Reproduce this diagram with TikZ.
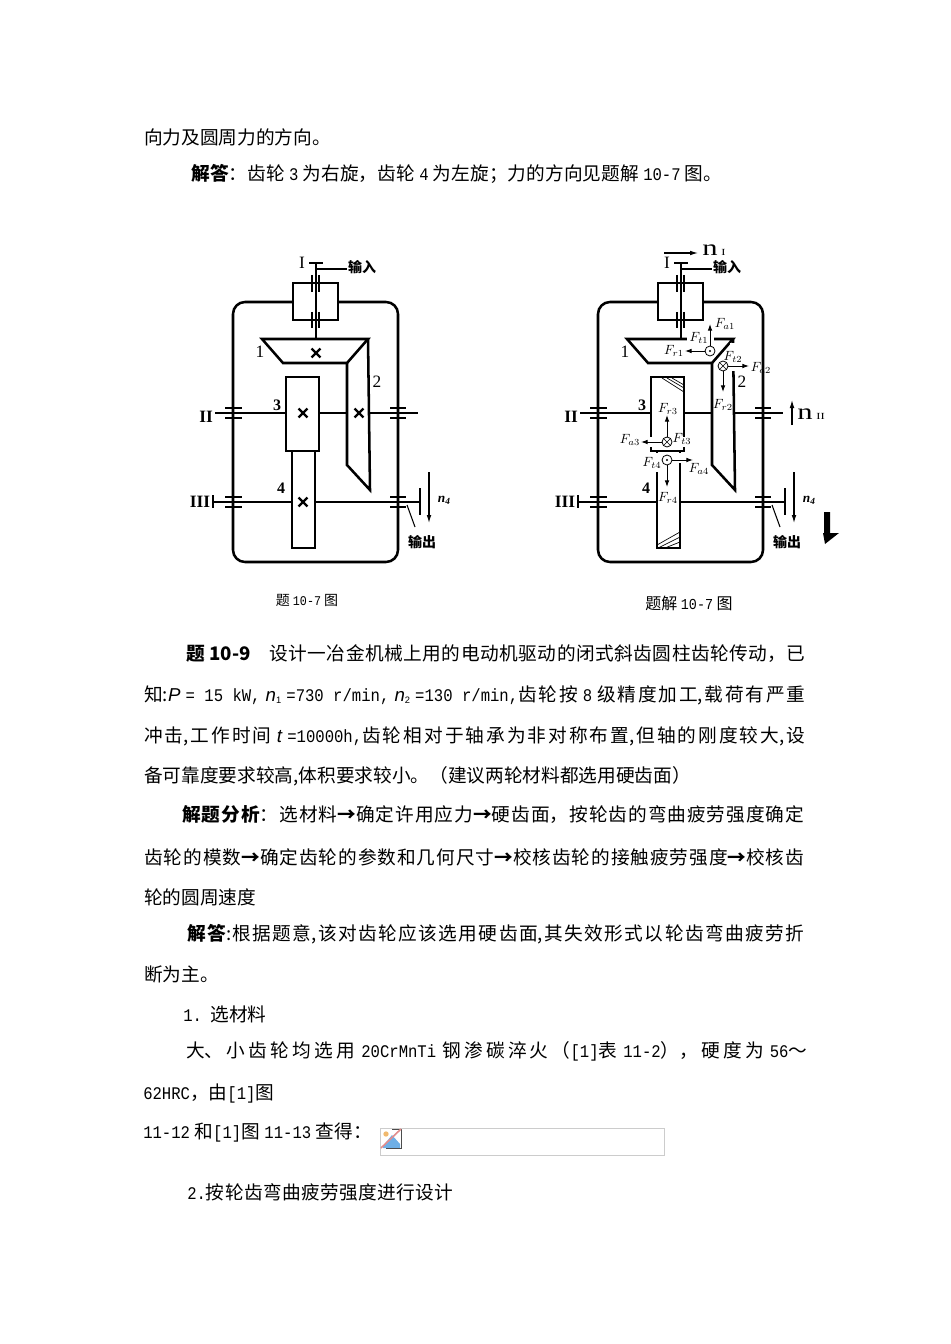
\documentclass[tikz,border=0pt]{standalone}
\usepackage{fontspec}
\setmainfont{Noto Sans CJK SC}
\newfontfamily\lafont[Scale=0.95,FakeStretch=0.88]{Liberation Mono}
\newfontfamily\itfont{Liberation Sans}
\newfontfamily\serfont{Liberation Serif}
\newfontfamily\wideser[FakeStretch=1.35]{Liberation Serif}
\usetikzlibrary{shapes.misc,arrows.meta}
\XeTeXlinebreaklocale "zh"
\XeTeXlinebreakskip=0pt plus 3pt
\newcommand{\la}[1]{\mbox{\lafont #1}}
\newcommand{\nsub}[2]{\mbox{{\itfont\itshape #1}\raisebox{-1.5pt}{\fontsize{7}{7}\selectfont\itfont #2}}}
\newcommand{\barrow}{\textbf{→}}
\tikzset{
	tline/.style={anchor=west,inner sep=0pt,font=\fontsize{14}{17}\selectfont},
	jline/.style={tline,text width=#1*0.75pt,align=justify,execute at begin node={\parfillskip=0pt\relax}},
	caption/.style={inner sep=0pt,font=\fontsize{10.5}{12}\selectfont},
	gearline/.style={line width=1.9pt,line join=miter},
	shaftline/.style={line width=1.4pt},
	thinline/.style={line width=0.8pt},
	bearbar/.style={line width=2.2pt},
	xmark/.style={cross out,draw,line width=1.7pt,minimum size=5pt,inner sep=0pt},
	romannum/.style={inner sep=0pt,font=\serfont\bfseries\fontsize{13}{13}\selectfont},
	gearnum/.style={inner sep=0pt,font=\serfont\bfseries\fontsize{12}{12}\selectfont},
	gearnumthin/.style={inner sep=0pt,font=\serfont\fontsize{13}{13}\selectfont},
	partlabel/.style={inner sep=0pt,font=\bfseries\fontsize{10.5}{12}\selectfont},
	forcelabel/.style={inner sep=0.5pt,font=\fontsize{10}{10}\selectfont},
	force/.style={-{Latex[length=5pt,width=3.5pt]},line width=0.7pt},
	speed/.style={-{Latex[length=6pt,width=3.5pt]},line width=0.8pt},
	dotcirc/.style={circle,draw,line width=0.6pt,fill=white,minimum size=7.5pt,inner sep=0pt,
		path picture={\fill[black] (path picture bounding box.center) circle (0.8pt);}},
	crosscirc/.style={circle,draw,line width=0.6pt,fill=white,minimum size=7.5pt,inner sep=0pt,
		path picture={\draw[line width=0.5pt] (path picture bounding box.north west) -- (path picture bounding box.south east)
			(path picture bounding box.north east) -- (path picture bounding box.south west);}},
	hatch/.style={line width=0.5pt},
	blank/.style={fill=white,draw=none}
}
\definecolor{iconblue}{RGB}{110,175,230}
\definecolor{iconred}{RGB}{225,140,140}
\definecolor{iconorange}{RGB}{240,185,110}
\begin{document}
\begin{tikzpicture}[x=0.75pt,y=-0.75pt]
\useasboundingbox (0,0) rectangle (950,1344);

% Text above
\node[tline] (para1) at (144,137) {向力及圆周力的方向。};
\node[jline=531] (para2) at (191,174) {\textbf{解答}：齿轮 \la{3} 为右旋，齿轮 \la{4} 为左旋；力的方向见题解 \la{10-7} 图。};

% Gearbox, drawn twice
\foreach \dx in {0,365} {
\begin{scope}[xshift=\dx*0.75pt]
	% housing
	\draw[gearline,rounded corners=9pt] (293,302) -- (233,302) -- (233,562) -- (398,562) -- (398,302) -- (338,302);
	\draw[gearline] (293,283) rectangle (338,320);
	% input shaft
	\draw[shaftline,line width=1.8pt] (316,263) -- (316,340);
	\draw[shaftline] (309,263) -- (323,263);
	\draw[thinline] (316,269) -- (347,269);
	\draw[bearbar] (312,275) -- (312,292) (319,275) -- (319,292);
	\draw[bearbar] (312,312) -- (312,328) (319,312) -- (319,328);
	% gears
	\draw[gearline] (262,339) -- (368,339) -- (347,363) -- (283,363) -- cycle;
	\draw[gearline] (347,363) -- (347,465) -- (370,490) -- (368,339);
	\draw[gearline] (286,377) rectangle (319,451);
	\draw[gearline] (292,451) rectangle (315,548);
	% shaft II and III
	\draw[shaftline] (215,413) -- (286,413) (319,413) -- (347,413) (370,413) -- (418,413);
	\draw[shaftline,line width=1.7pt] (213,502) -- (292,502) (315,502) -- (420,502);
	\draw[bearbar] (213,495) -- (213,508);
	\draw[bearbar] (420,488) -- (420,515);
	% bearings
	\draw[bearbar] (225,408) -- (242,408) (225,418) -- (242,418);
	\draw[bearbar] (390,408) -- (406,408) (390,418) -- (406,418);
	\draw[bearbar] (225,497) -- (242,497) (225,507) -- (242,507);
	\draw[bearbar] (390,497) -- (406,497) (390,507) -- (406,507);
	% labels
	\node[romannum,font=\serfont\fontsize{13}{13}\selectfont] (numI\dx) at (302,263) {I};
	\node[romannum] (numII\dx) at (206,417) {II};
	\node[romannum] (numIII\dx) at (200,502) {III};
	\node[gearnumthin] (gearA\dx) at (260,352) {1};
	\node[gearnumthin] (gearB\dx) at (377,382) {2};
	\node[gearnum] (gearC\dx) at (277,405) {3};
	\node[gearnum] (gearD\dx) at (281,488) {4};
	\node[partlabel] (input\dx) at (362,267) {输入};
	\node[partlabel] (output\dx) at (422,542) {输出};
	\coordinate (outfoot\dx) at (415,527);
	\coordinate (outtop\dx) at (407,505);
	\draw[thinline] (outtop\dx) -- (outfoot\dx);
	% output speed
	\coordinate (nfa\dx) at (429,472);
	\coordinate (nfb\dx) at (429,523);
	\draw[speed] (nfa\dx) -- (nfb\dx);
	\node[inner sep=0pt,font=\serfont\bfseries\itshape\fontsize{10}{10}\selectfont] (nfour\dx) at (444,500) {n\raisebox{-1.5pt}{\fontsize{7}{7}\selectfont 4}};
\end{scope}
}

% Marks on the left gears only
\node[xmark] (xa) at (316,353) {};
\node[xmark] (xb) at (359,413) {};
\node[xmark] (xc) at (303,413) {};
\node[xmark] (xd) at (303,502) {};

% Gaps on the right gears
\fill[blank] (687,336) rectangle (714,342);
\fill[blank] (730,343) rectangle (738,371);
\fill[blank] (648,437) rectangle (654,447);
\fill[blank] (681,437) rectangle (687,447);
\fill[blank] (654,453) rectangle (660,472);
\fill[blank] (677,453) rectangle (683,463);

% Hatching
\draw[hatch] (662,378) -- (684,392) (667,378) -- (684,388) (672,378) -- (684,385);
\draw[hatch] (657,545) -- (680,532) (658,548) -- (680,537) (665,548) -- (680,542);

% Forces on gear 1
\node[dotcirc] (dotA) at (710,351) {};
\coordinate (headAa) at (710,324);
\coordinate (headAr) at (685,351);
\draw[force] (dotA) -- (headAa);
\draw[force] (dotA) -- (headAr);
\node[forcelabel] (fa1) at (725,324) {$F_{a1}$};
\node[forcelabel] (ft1) at (699,338) {$F_{t1}$};
\node[forcelabel] (fr1) at (674,351) {$F_{r1}$};

% Forces on gear 2
\node[crosscirc] (crossB) at (723,366) {};
\coordinate (headBa) at (749,366);
\coordinate (headBr) at (723,392);
\draw[force] (crossB) -- (headBa);
\draw[force] (crossB) -- (headBr);
\node[forcelabel] (ft2) at (733,357) {$F_{t2}$};
\node[forcelabel] (fa2) at (761,368) {$F_{a2}$};
\node[forcelabel] (fr2) at (723,405) {$F_{r2}$};

% Forces on gear 3
\node[crosscirc] (crossC) at (667,442) {};
\coordinate (headCr) at (667,415);
\coordinate (headCa) at (641,442);
\draw[force] (crossC) -- (headCr);
\draw[force] (crossC) -- (headCa);
\node[forcelabel] (fr3) at (668,409) {$F_{r3}$};
\node[forcelabel] (fa3) at (630,440) {$F_{a3}$};
\node[forcelabel] (ft3) at (682,439) {$F_{t3}$};

% Forces on gear 4
\node[dotcirc] (dotD) at (667,460) {};
\coordinate (headDa) at (693,460);
\coordinate (headDr) at (667,487);
\draw[force] (dotD) -- (headDa);
\draw[force] (dotD) -- (headDr);
\node[forcelabel] (ft4) at (652,463) {$F_{t4}$};
\node[forcelabel] (fa4) at (699,469) {$F_{a4}$};
\node[forcelabel] (fr4) at (668,498) {$F_{r4}$};

% Speeds added by hand
\coordinate (nIa) at (664,253);
\coordinate (nIb) at (698,253);
\draw[speed] (nIa) -- (nIb);
\node[inner sep=0pt,anchor=west,font=\wideser\fontsize{17}{17}\selectfont] (nI) at (702,250) {n\,\fontsize{7}{7}\selectfont I};
\coordinate (nIIa) at (792,425);
\coordinate (nIIb) at (792,400);
\draw[speed] (nIIa) -- (nIIb);
\node[inner sep=0pt,anchor=west,font=\wideser\fontsize{17}{17}\selectfont] (nII) at (797,414) {n\,\fontsize{7}{7}\selectfont II};
\fill (824,512) -- (830,512) -- (830,533) -- (839,533) -- (825,544) -- (823,533) -- (824,533) -- cycle;

% Captions
\node[caption] (capA) at (307,600) {题 \la{10-7} 图};
\node[caption,font=\fontsize{12}{14}\selectfont] (capB) at (689,603) {题解 \la{10-7} 图};

% Text below
\node[jline=619] (para3) at (186,654) {\textbf{题 10-9}\quad 设计一冶金机械上用的电动机驱动的闭式斜齿圆柱齿轮传动，已};
\node[jline=661] (para4) at (144,695) {知:{\itfont\itshape P} \la{= 15 kW,} \nsub{n}{1} \la{=730 r/min,} \nsub{n}{2} \la{=130 r/min,}齿轮按 \la{8} 级精度加工,载荷有严重};
\node[jline=661] (para5) at (144,736) {冲击,工作时间 {\itfont\itshape t} \la{=10000h,}齿轮相对于轴承为非对称布置,但轴的刚度较大,设};
\node[tline] (para6) at (144,776) {备可靠度要求较高,体积要求较小。（建议两轮材料都选用硬齿面）};
\node[jline=622] (para7) at (182,815) {\textbf{解题分析}：选材料\barrow 确定许用应力\barrow 硬齿面，按轮齿的弯曲疲劳强度确定};
\node[jline=660] (para8) at (144,857) {齿轮的模数\barrow 确定齿轮的参数和几何尺寸\barrow 校核齿轮的接触疲劳强度\barrow 校核齿};
\node[tline] (para9) at (144,897) {轮的圆周速度};
\node[jline=617] (para10) at (187,934) {\textbf{解答}:根据题意,该对齿轮应该选用硬齿面,其失效形式以轮齿弯曲疲劳折};
\node[tline] (para11) at (144,974) {断为主。};
\node[tline] (para12) at (183,1014) {\la{1.} \ 选材料};
\node[jline=621] (para13) at (186,1051) {大、小齿轮均选用 \la{20CrMnTi} 钢渗碳淬火（\la{[1]}表 \la{11-2}），硬度为 \la{56}～};
\node[tline] (para14) at (143,1093) {\la{62HRC}，由\la{[1]}图};
\node[jline=229] (para15) at (143,1132) {\la{11-12} 和\la{[1]}图 \la{11-13} 查得：};
\node[jline=266] (para16) at (187,1192) {\la{2.}按轮齿弯曲疲劳强度进行设计};

% Missing image box
\draw[line width=0.6pt,draw=black!20] (380,1128) rectangle (664,1155);
\fill[white] (381,1129) rectangle (401,1148);
\fill[iconblue] (383,1146) -- (392,1135) -- (400,1144) -- (400,1148) -- (383,1148) -- cycle;
\fill[iconorange] (386,1134) circle (2pt);
\draw[line width=0.5pt,draw=black!70] (392,1129) -- (401,1129) -- (401,1148) -- (386,1148);
\draw[line width=1.2pt,draw=iconred] (381,1148) -- (401,1129);
\end{tikzpicture}
\end{document}
